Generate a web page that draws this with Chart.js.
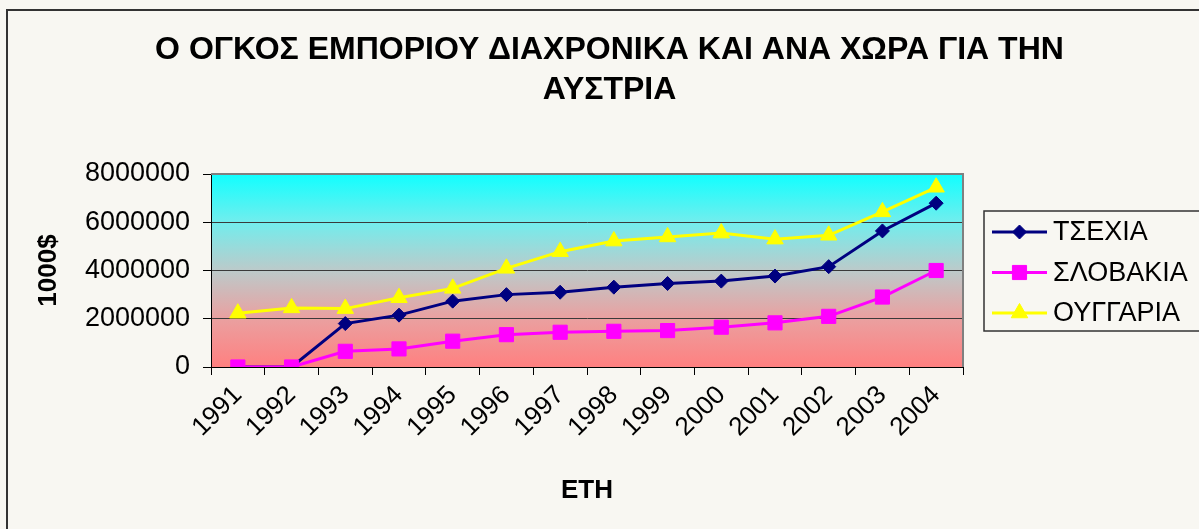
<!DOCTYPE html>
<html>
<head>
<meta charset="utf-8">
<script src="https://cdn.jsdelivr.net/npm/chart.js@4/dist/chart.umd.min.js"></script>
<style>
  body { margin: 0; background: #f8f7f2; }
  #caixa { width: 1199px; height: 529px; }
</style>
</head>
<body>
<div id="caixa"><canvas id="graficoLinha"></canvas></div>
<script>
// Dados (valores em 1000$)
const anos = ['1991', '1992', '1993', '1994', '1995', '1996', '1997', '1998', '1999', '2000', '2001', '2002', '2003', '2004'];
const series = ['ΤΣΕΧΙΑ', 'ΣΛΟΒΑΚΙΑ', 'ΟΥΓΓΑΡΙΑ'];
const dadosTsexia = [0, 0, 1800000, 2150000, 2730000, 3000000, 3100000, 3310000, 3460000, 3560000, 3770000, 4160000, 5640000, 6790000];
const dadosSlovakia = [0, 0, 650000, 750000, 1070000, 1340000, 1440000, 1480000, 1510000, 1650000, 1830000, 2100000, 2900000, 4000000];
const dadosOyggaria = [2230000, 2450000, 2420000, 2870000, 3260000, 4090000, 4780000, 5220000, 5390000, 5550000, 5300000, 5460000, 6430000, 7450000];
const ticksY = [0, 2000000, 4000000, 6000000, 8000000];
const titulo = ['Ο ΟΓΚΟΣ ΕΜΠΟΡΙΟΥ ΔΙΑΧΡΟΝΙΚΑ ΚΑΙ ΑΝΑ ΧΩΡΑ ΓΙΑ ΤΗΝ', 'ΑΥΣΤΡΙΑ'];

const fonte = 'Arial, "Liberation Sans", sans-serif';
Chart.defaults.font.family = fonte;
Chart.defaults.color = '#000';

// Fundo da página, moldura e degradê da área do gráfico
const fundo = {
    id: 'fundo',
    beforeDraw(chart) {
        const { ctx, chartArea: a } = chart;
        ctx.save();
        ctx.fillStyle = '#f8f7f2';
        ctx.fillRect(0, 0, chart.width, chart.height);
        ctx.strokeStyle = '#333';
        ctx.lineWidth = 2;
        ctx.strokeRect(7, 10, chart.width + 20, chart.height + 20);
        const g = ctx.createLinearGradient(0, a.top, 0, a.bottom);
        g.addColorStop(0, '#10ffff');
        g.addColorStop(0.25, '#72eded');
        g.addColorStop(0.5, '#bccaca');
        g.addColorStop(0.75, '#eaa0a0');
        g.addColorStop(1, '#ff8080');
        ctx.fillStyle = g;
        ctx.fillRect(a.left, a.top, a.right - a.left, a.bottom - a.top);
        ctx.restore();
    },
    beforeDatasetsDraw(chart) {
        const { ctx, chartArea: a } = chart;
        ctx.save();
        ctx.strokeStyle = '#808080';
        ctx.lineWidth = 2;
        ctx.beginPath();
        ctx.moveTo(a.left, a.top);
        ctx.lineTo(a.right, a.top);
        ctx.lineTo(a.right, a.bottom);
        ctx.stroke();
        ctx.restore();
    }
};

// Legenda com linha + marcador, desenhada à direita
const legenda = {
    id: 'legenda',
    afterDraw(chart) {
        const { ctx } = chart;
        ctx.save();
        ctx.strokeStyle = '#333';
        ctx.lineWidth = 1.5;
        ctx.strokeRect(984, 211, 240, 120);
        chart.data.datasets.forEach((ds, i) => {
            const y = 232 + i * 40.5;
            ctx.strokeStyle = ds.borderColor;
            ctx.lineWidth = ds.borderWidth;
            ctx.beginPath();
            ctx.moveTo(992, y);
            ctx.lineTo(1047, y);
            ctx.stroke();
            ctx.fillStyle = ds.backgroundColor;
            ctx.lineWidth = 1;
            Chart.helpers.drawPoint(ctx, {
                pointStyle: ds.pointStyle,
                radius: ds.pointRadius,
                borderWidth: 1,
                rotation: 0
            }, 1019.5, y);
            ctx.fillStyle = '#000';
            ctx.font = '27px ' + fonte;
            ctx.textBaseline = 'middle';
            ctx.fillText(ds.label, 1053, y + 1);
        });
        ctx.restore();
    }
};

const ctxLinha = document.getElementById('graficoLinha').getContext('2d');
const graficoLinha = new Chart(ctxLinha, {
    type: 'line',
    data: {
        labels: anos,
        datasets: [{
            label: series[0],
            data: dadosTsexia,
            borderColor: '#000080',
            backgroundColor: '#000080',
            borderWidth: 3,
            pointStyle: 'rectRot',
            pointRadius: 7,
            pointBorderWidth: 1,
            order: 3
        }, {
            label: series[1],
            data: dadosSlovakia,
            borderColor: '#ff00ff',
            backgroundColor: '#ff00ff',
            borderWidth: 3,
            pointStyle: 'rect',
            pointRadius: 10,
            pointBorderWidth: 1,
            order: 2
        }, {
            label: series[2],
            data: dadosOyggaria,
            borderColor: '#ffff00',
            backgroundColor: '#ffff00',
            borderWidth: 3,
            pointStyle: 'triangle',
            pointRadius: 9.5,
            pointBorderWidth: 1,
            order: 1
        }]
    },
    options: {
        responsive: true,
        maintainAspectRatio: false,
        animation: false,
        layout: { padding: { left: 20, top: 10, right: 0, bottom: 0 } },
        plugins: {
            legend: { display: false },
            tooltip: { enabled: false },
            title: {
                display: true,
                text: titulo,
                font: { size: 32, weight: 'bold', lineHeight: 40 / 32 },
                padding: { top: 20, bottom: 64 }
            }
        },
        scales: {
            x: {
                offset: true,
                grid: { offset: true, drawOnChartArea: false, drawTicks: true, tickLength: 8, tickColor: '#000' },
                border: { color: '#000', width: 1 },
                ticks: { minRotation: 45, maxRotation: 45, padding: 5, font: { size: 26 }, autoSkip: false },
                title: { display: true, text: 'ΕΤΗ', font: { size: 26, weight: 'bold' }, padding: { top: 0, bottom: 23 } },
                afterFit: (s) => { s.height = 162; }
            },
            y: {
                min: 0,
                max: 8000000,
                afterBuildTicks: (s) => { s.ticks = ticksY.map(v => ({ value: v })); },
                grid: { color: '#3a3a3a', tickLength: 8, tickColor: '#000' },
                border: { color: '#000', width: 1 },
                ticks: { padding: 13, font: { size: 27 }, callback: (v) => String(v) },
                title: { display: true, text: '1000$', font: { size: 26, weight: 'bold' }, padding: { top: 13, bottom: 0 } },
                afterFit: (s) => { s.width = 191; }
            },
            espacoLegenda: {
                position: 'right',
                display: true,
                grid: { display: false, drawTicks: false },
                border: { display: false },
                ticks: { display: false },
                afterFit: (s) => { s.width = 236; }
            }
        }
    },
    plugins: [fundo, legenda]
});
</script>
</body>
</html>
